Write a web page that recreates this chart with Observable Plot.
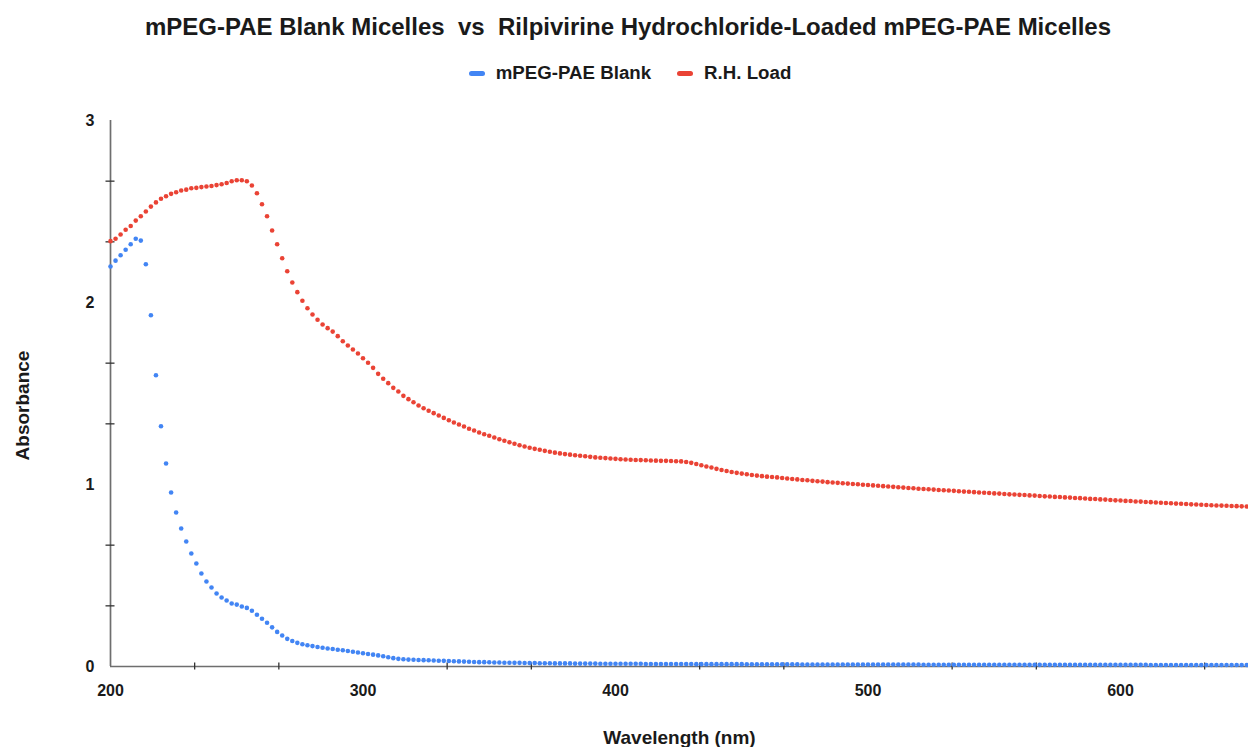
<!DOCTYPE html>
<html>
<head>
<meta charset="utf-8">
<script src="https://cdn.jsdelivr.net/npm/d3@7"></script>
<script src="https://cdn.jsdelivr.net/npm/@observablehq/plot@0.6"></script>
<style>
  html, body { margin: 0; padding: 0; background: #fff; }
  #wrap { position: relative; width: 1248px; height: 747px; font-family: "Liberation Sans", Arial, sans-serif; }
  #title { position: absolute; left: 4px; top: 12px; width: 1248px; text-align: center; font-weight: bold; font-size: 24px; color: #1a1a1a; white-space: pre; line-height: 30px; }
  #legend { position: absolute; left: 6px; top: 61px; width: 1248px; display: flex; justify-content: center; align-items: center; font-weight: bold; font-size: 18.7px; color: #1a1a1a; line-height: 24px; }
  .item { display: flex; align-items: center; margin: 0 13px; }
  .sw { width: 16px; height: 5px; border-radius: 2.5px; margin-right: 11px; }
  #chart { position: absolute; left: 0; top: 92px; }
</style>
</head>
<body>
<div id="wrap">
  <div id="title"></div>
  <div id="legend"></div>
  <div id="chart"></div>
</div>
<script>
const titleText = "mPEG-PAE Blank Micelles  vs  Rilpivirine Hydrochloride-Loaded mPEG-PAE Micelles";
const seriesNames = ["mPEG-PAE Blank", "R.H. Load"];
const seriesColors = ["#4285F4", "#EA4335"];
const xLabel = "Wavelength (nm)";
const yLabel = "Absorbance";
const xTickValues = [200, 300, 400, 500, 600];
const yTickValues = [0, 1, 2, 3];
const xMinorTicks = [233.33, 266.67, 333.33, 366.67, 433.33, 466.67, 533.33, 566.67, 633.33];
const yMinorTicks = [0.3333, 0.6667, 1.3333, 1.6667, 2.3333, 2.6667];

// sampling grid: 200 nm to 650 nm, every 2 nm
const wavelengths = d3.range(200, 651, 2);

const blankAbs = [
  2.198, 2.230, 2.260, 2.290, 2.320, 2.350, 2.340,
  2.210, 1.930, 1.600, 1.320, 1.115, 0.956, 0.846, 0.758, 0.687, 0.621, 0.566, 0.511, 0.467, 0.434, 0.401, 0.379, 0.363, 0.346, 0.340, 0.330, 0.322, 0.306,
  0.284, 0.262, 0.240, 0.215, 0.190, 0.170, 0.152, 0.140, 0.130, 0.122, 0.117, 0.112, 0.107, 0.103, 0.099, 0.096, 0.092, 0.089, 0.085, 0.081, 0.077, 0.073, 0.069, 0.065, 0.061, 0.056, 0.051, 0.046, 0.042, 0.040, 0.038, 0.037,
  0.036, 0.035, 0.034, 0.033, 0.032, 0.031, 0.030, 0.029, 0.028, 0.027,
  0.026, 0.025, 0.024, 0.024, 0.023, 0.022, 0.022, 0.021, 0.021, 0.020,
  0.020, 0.019, 0.019, 0.019, 0.018, 0.018, 0.018, 0.017, 0.017, 0.017,
  0.017, 0.016, 0.016, 0.016, 0.016, 0.016, 0.015, 0.015, 0.015, 0.015,
  0.015, 0.015, 0.015, 0.015, 0.015, 0.014, 0.014, 0.014, 0.014, 0.014,
  0.014, 0.014, 0.014, 0.014, 0.014, 0.013, 0.013, 0.013, 0.013, 0.013,
  0.013, 0.013, 0.013, 0.013, 0.013, 0.012, 0.012, 0.012, 0.012, 0.012,
  0.012, 0.012, 0.012, 0.012, 0.012, 0.012, 0.011, 0.011, 0.011, 0.011,
  0.011, 0.011, 0.011, 0.011, 0.011, 0.011, 0.011, 0.011, 0.011, 0.011,
  0.011, 0.011, 0.011, 0.011, 0.011, 0.011, 0.011, 0.011, 0.011, 0.011,
  0.010, 0.010, 0.010, 0.010, 0.010, 0.010, 0.010, 0.010, 0.010, 0.010,
  0.010, 0.010, 0.010, 0.010, 0.010, 0.010, 0.010, 0.010, 0.010, 0.010,
  0.009, 0.009, 0.009, 0.009, 0.009, 0.009, 0.009, 0.009, 0.009, 0.009,
  0.009, 0.009, 0.009, 0.009, 0.009, 0.009, 0.009, 0.009, 0.009, 0.009,
  0.009, 0.009, 0.009, 0.009, 0.009,
  0.008, 0.008, 0.008, 0.008, 0.008, 0.008, 0.008, 0.008, 0.008, 0.008,
  0.008, 0.008, 0.008, 0.008, 0.008, 0.008, 0.008, 0.008, 0.008, 0.008
];

const loadAbs = [
  2.337, 2.350, 2.374, 2.400, 2.420, 2.450, 2.474, 2.500, 2.527, 2.550,
  2.570, 2.584, 2.597, 2.606, 2.615, 2.620, 2.628, 2.630, 2.634, 2.637,
  2.640, 2.645, 2.650, 2.657, 2.666, 2.672, 2.672, 2.666, 2.643, 2.600,
  2.540, 2.474, 2.396, 2.320, 2.243, 2.172, 2.110, 2.057, 2.010, 1.968,
  1.934, 1.905, 1.879, 1.859, 1.840, 1.815,
  1.787, 1.764, 1.742, 1.720, 1.694, 1.669, 1.641, 1.608, 1.581, 1.557,
  1.531, 1.511, 1.487, 1.469, 1.452, 1.434, 1.419, 1.405, 1.392, 1.379,
  1.366, 1.353, 1.341, 1.330, 1.319, 1.306, 1.297, 1.286, 1.276, 1.268,
  1.258, 1.249, 1.240, 1.232, 1.224, 1.216, 1.209, 1.202, 1.196, 1.191,
  1.185, 1.180,
  1.175, 1.171, 1.167, 1.164, 1.161, 1.158, 1.155, 1.152, 1.149, 1.147,
  1.145, 1.143, 1.141, 1.139, 1.137, 1.136, 1.135, 1.134, 1.133, 1.132,
  1.131, 1.130, 1.130, 1.129, 1.128, 1.127, 1.124, 1.119, 1.113, 1.106,
  1.099, 1.093, 1.086, 1.080, 1.074, 1.069, 1.064, 1.060, 1.056, 1.052,
  1.049, 1.046, 1.043, 1.041, 1.039, 1.036, 1.033, 1.030, 1.028, 1.025,
  1.023, 1.020, 1.018, 1.016, 1.013, 1.011, 1.009, 1.007, 1.005, 1.003,
  1.001, 0.999, 0.997, 0.995, 0.993, 0.991, 0.989, 0.987, 0.985, 0.983,
  0.981, 0.979, 0.977, 0.975, 0.974, 0.972, 0.970, 0.968, 0.967, 0.965,
  0.963, 0.961, 0.960, 0.958, 0.956, 0.955, 0.953, 0.951, 0.950, 0.948,
  0.946, 0.945, 0.943, 0.942, 0.940, 0.939, 0.937, 0.935, 0.934, 0.932,
  0.931, 0.929, 0.928, 0.926, 0.925, 0.923, 0.921, 0.920, 0.918, 0.917,
  0.915, 0.913, 0.912, 0.910, 0.909, 0.907, 0.906, 0.904, 0.903, 0.901,
  0.900, 0.898, 0.897, 0.895, 0.894, 0.893, 0.891, 0.890, 0.889, 0.887,
  0.886, 0.885, 0.884, 0.883, 0.882, 0.881, 0.880, 0.879
];

const rows = [];
wavelengths.forEach((w, i) => {
  rows.push({wavelength: w, absorbance: blankAbs[i], series: seriesNames[0]});
});
wavelengths.forEach((w, i) => {
  rows.push({wavelength: w, absorbance: loadAbs[i], series: seriesNames[1]});
});

document.getElementById("title").textContent = titleText;
const legend = document.getElementById("legend");
seriesNames.forEach((name, i) => {
  const item = document.createElement("div");
  item.className = "item";
  const sw = document.createElement("div");
  sw.className = "sw";
  sw.style.background = seriesColors[i];
  const lab = document.createElement("span");
  lab.textContent = name;
  item.appendChild(sw);
  item.appendChild(lab);
  legend.appendChild(item);
});

const fontFam = "Liberation Sans, Arial, sans-serif";

const chart = Plot.plot({
  width: 1248,
  height: 655,
  marginTop: 28,
  marginBottom: 81,
  marginLeft: 110,
  marginRight: 0,
  style: {fontFamily: fontFam, background: "#fff", overflow: "visible"},
  x: {domain: [200, 650.7]},
  y: {domain: [0, 3]},
  color: {domain: seriesNames, range: seriesColors},
  marks: [
    Plot.ruleX([200], {stroke: "#6e6e6e", strokeWidth: 1.7}),
    Plot.ruleY([0], {stroke: "#6e6e6e", strokeWidth: 1.7}),
    Plot.axisY({ticks: yMinorTicks, tickSize: 9, dx: 4.5, tickFormat: () => "", stroke: "#333", strokeWidth: 1.3, label: null}),
    Plot.axisX({ticks: xMinorTicks, tickSize: 7, dy: -3.5, tickFormat: () => "", stroke: "#333", strokeWidth: 1.3, label: null}),
    Plot.axisY({ticks: yTickValues, tickSize: 0, tickPadding: 16, tickFormat: d3.format("d"), fontSize: 16, fontWeight: "bold", fill: "#1a1a1a", label: null}),
    Plot.axisX({ticks: xTickValues, tickSize: 0, tickPadding: 18, tickFormat: d3.format("d"), fontSize: 16, fontWeight: "bold", fill: "#1a1a1a", label: null}),
    Plot.text([yLabel], {text: d => d, frameAnchor: "left", dx: -88, dy: 12, rotate: -90, textAnchor: "middle", lineAnchor: "middle", fontSize: 19, fontWeight: "bold", fill: "#1a1a1a"}),
    Plot.text([xLabel], {text: d => d, frameAnchor: "bottom", dy: 71, textAnchor: "middle", lineAnchor: "middle", fontSize: 19, fontWeight: "bold", fill: "#1a1a1a"}),
    Plot.dot(rows, {x: "wavelength", y: "absorbance", fill: "series", r: 2.3, stroke: "none"})
  ]
});
document.getElementById("chart").appendChild(chart);
</script>
</body>
</html>
